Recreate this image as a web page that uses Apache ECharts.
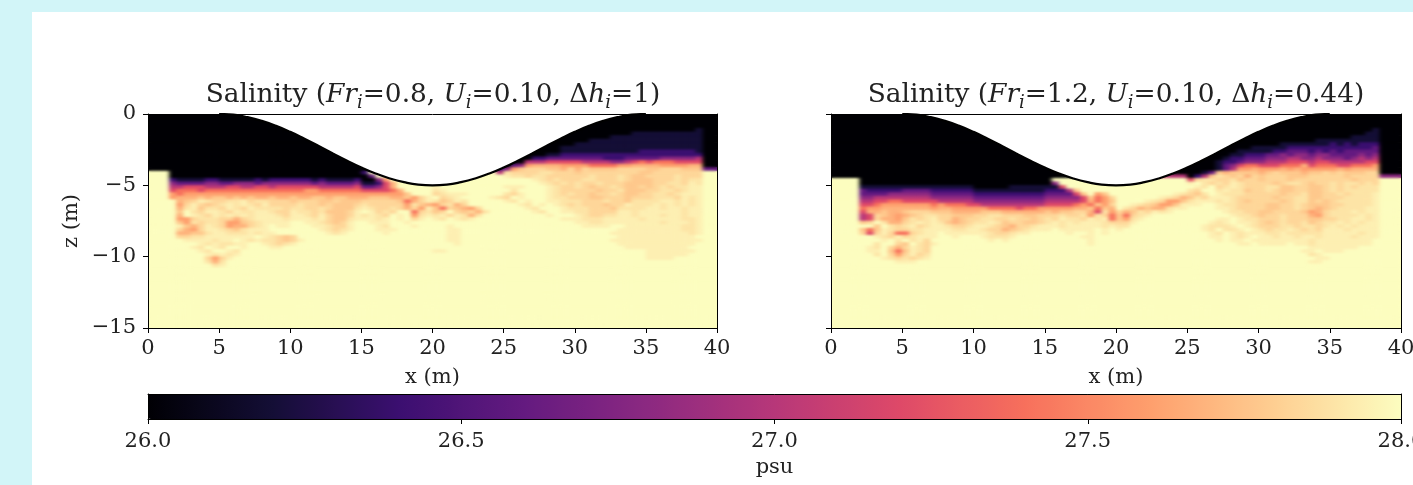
<!DOCTYPE html>
<html><head><meta charset="utf-8">
<style>
html,body{margin:0;padding:0;width:1413px;height:485px;overflow:hidden;background:#d2f5f8}
#paper{position:absolute;left:32px;top:12px;width:1381px;height:473px;background:#fff}
#chart{position:absolute;left:0;top:0;width:1413px;height:485px}
</style>
<script src="https://cdn.jsdelivr.net/npm/echarts@6/dist/echarts.min.js"></script>
</head><body>
<svg width="0" height="0" style="position:absolute"><filter id="soft" x="0" y="0" width="100%" height="100%" color-interpolation-filters="sRGB"><feGaussianBlur stdDeviation="2.2 1.1" result="b"/><feMerge><feMergeNode in="SourceGraphic"/><feMergeNode in="b"/></feMerge></filter></svg>
<div id="paper"></div><div id="chart"></div>
<script>
// Salinity level of each character used in the field rows below
const levelChars = ['0','1','2','3','4','5','6','7','8','9','a','b','c','d','.'];
const levelValues = [26.0,26.2,26.4,26.6,26.8,27.0,27.2,27.4,27.6,27.68,27.77,27.83,27.89,27.94,28.0];
const magmaStops = ['#000004','#140e36','#3b0f70','#641a80','#8c2981','#b73779','#de4968','#f7705c','#fe9f6d','#fecf92','#fcfdbf'];
const titleA = ['0.8','0.10','1'];
const titleB = ['1.2','0.10','0.44'];
// upper boundary (hull)
const hullX = [5,6,7,8,9,10,11,12,13,14,15,16,17,18,19,20,21,22,23,24,25,26,27,28,29,30,31,32,33,34,35];
const hullZ = [0,-0.05,-0.22,-0.48,-0.83,-1.25,-1.73,-2.24,-2.76,-3.27,-3.75,-4.17,-4.52,-4.78,-4.95,-5,-4.95,-4.78,-4.52,-4.17,-3.75,-3.27,-2.76,-2.24,-1.73,-1.25,-0.83,-0.48,-0.22,-0.05,0];
// Cells are 0.5 m wide, 0.25 m tall. firstRow = rows above it are black; rows after the last are background.
const firstRow = 4;
const fieldRowsA = [
'0000000000 0000000000 0000000000 0000000000 0000000000 0000000000 0000000000 0000000100',
'0000000000 0000000000 0000000000 0000000000 0000000000 0000000000 0000000011 1111111100',
'0000000000 0000000000 0000000000 0000000000 0000000000 0000000000 0000011111 1111111100',
'0000000000 0000000000 0000000000 0000000000 0000000000 0000000000 0011111111 1111111100',
'0000000000 0000000000 0000000000 0000000000 0000000000 0000000000 1111111111 1111111100',
'0000000000 0000000000 0000000000 0000000000 0000000000 0000000011 1111111111 1111111100',
'0000000000 0000000000 0000000000 0000000000 0000000000 0000000011 1111111112 2222222100',
'0000000000 0000000000 0000000000 0000000000 0000000000 0000001122 2222222222 2222222200',
'0000000000 0000000000 0000000000 0000000000 0000000000 0000223333 3333222333 3344444500',
'0000000000 0000000000 0000000000 0000000000 0000000000 0005556666 6555544567 6777666600',
'0000000000 0000000000 0000000000 0000000000 0000000000 0348999988 8877778899 9988889900',
'0000000000 0000000000 0000000000 0000000000 0000000002 48abbbaa9b 9baaaabbbb aabbbaaa33',
'...0000000 0000000000 0000000000 2......... .........5 cbbbbccbbb abbbbbbbba abbbbbbb..',
'...0000000 0000000000 0000000000 03........ .......... dccbccbbbb bbcbbbcbaa bbbbcbbb..',
'...2111122 1111121222 2221211112 0048...... .......... ....dcbcbb bccbbbcbaa abbbcbcc..',
'...4333344 3344434444 4443433334 11269..... .......... .....dcbcb cbbcbbbaaa abbccbdc..',
'...5566655 5665566566 6666555556 33469..... d......... ddd...dcbb cbabbcbaab abcbccdd..',
'...6777677 7777777777 7788777777 666679.... cd........ .c....dcbb bbbabbcaaa bbccbcdd..',
'...8788888 8888888888 8888888888 888888a... bcddd..... cbd...dcbc bbabbcbaab bccbcddd..',
'...8999a9a a9a9a99a99 a99aa9aa99 9aaa99a8bd .bcd....dc b.d...dccb bbaabbbabb bcccbdcd..',
'....9abdcb bccdbccbbb abbbaabaaa bbbbba79bd cabdc..... dc.d..ddcc cbbbcbbacc ccddcdcd..',
'....8bdbab cdcdcbdbbb bcbbabaaab cbbbbb8ca9 8bc9b..... ..dc.d.dcb cbbbabbdcc cdcdcdcd..',
'....9cdacc bdcbdccccb ccbbcbaaac dcbbcb9b8d a7ba98b... ...dc...dc ccbbbacccc ddcddcdd..',
'....a.cbdd cbdccddcbb dccbcaaabd .dbcb..7bc ab.bab9c.. ....dc..dd ccbbbbddcd dddddcdd..',
'....9.dcbd cdcdcdddcb ddcbdbaabd cdcb.d.8cd cdbdc9c... ......d... dcbbccddcd ddcddcdd..',
'....88bccc bb9bcddddc dddcdbaacd ddcd.d.bd. dc.dcd.... ........dd dcccdddddc dddddccd..',
'....a8cbcc b88abcdddd ..ddcbabd. .ddd..d... .......... .......... ddccdddddd ddcdddcd..',
'....da9bdc b899bcd.dd ...ddcbbd. ..dc...d.. ..d....... .......... .dddd..ddd dddddccd..',
'....b98bdd cbacddd... ....dcbcd. ..ddd..... ..dd...... .......... ......dddd dddddccd..',
'....99aacd dcccdcdd.. .....dcd.. ...d...... ..dd...... .......... .....ddddd ddddddcd..',
'....bbccdd ddddd.dcba b......... .......... ..dd...... .......... ......dddd ddddddd...',
'.....ddddc dd.dcdccba bd........ .......... ..dd...... .......... .....ddddd dddddddd..',
'.......dcd ccdd..dcbc d......... .......... ...d...... .......... ......dddd ddddddd...',
'......dc.d c..d...dd. .......... .......... .......... .......... .......ddd dddddd....',
'.......dc. .dc....... .......... .......... dd........ .......... .......... ddddddd...',
'........dc dcd....... .......... .......... .......... .......... .......... dddddd....',
'........b8 bd........ .......... .......... .......... .......... .......... dddd......',
'........c9 c......... .......... .......... .......... .......... .......... ..........',
'.........c d......... .......... .......... .......... .......... .......... ..........'
];
const fieldRowsB = [
'0000000000 0000000000 0000000000 0000000000 0000000000 0000000000 0000000000 0000001000',
'0000000000 0000000000 0000000000 0000000000 0000000000 0000000000 0000000000 0000011000',
'0000000000 0000000000 0000000000 0000000000 0000000000 0000000000 0000000000 0001111000',
'0000000000 0000000000 0000000000 0000000000 0000000000 0000000000 0000000011 1111111000',
'0000000000 0000000000 0000000000 0000000000 0000000000 0000000000 0001111111 2121222000',
'0000000000 0000000000 0000000000 0000000000 0000000000 0000000001 1111222222 2222223000',
'0000000000 0000000000 0000000000 0000000000 0000000000 0000000111 1122333232 3233333000',
'0000000000 0000000000 0000000000 0000000000 0000000000 0000001122 2334344344 3333434000',
'0000000000 0000000000 0000000000 0000000000 0000000000 0000012233 3444554454 4434545000',
'0000000000 0000000000 0000000000 0000000000 0000000000 0000122344 4555666566 5555566000',
'0000000000 0000000000 0000000000 0000000000 0000000000 0000134677 6667779677 7667778000',
'0000000000 0000000000 0000000000 0000000000 0000000000 0000135889 8889898888 8989999000',
'0000000000 0000000000 0000000000 0000000000 0000000000 0013a9aaaa 9abaaa9aab abaaabb000',
'0000000000 0000000000 0000000000 0000000000 ......5555 025acbab9b abbbaaabbb bbabbbb444',
'....000000 0000000000 0000000000 0......... .......... 6bccbbcabb abbbabbbbb bbbabbb...',
'....000000 0000000000 0000000000 04........ .......... d.cbcbdcbb bbabccbabb cbccbcb...',
'....111111 1111111111 0000011111 116....... .......... .dc.bcdcbb bccaabbaab cbcbccc...',
'....322222 3333222222 1111111111 2225a..... .......... cb..cdccab bcbaabbaab cbccccc...',
'....333344 4444333333 2222222222 33336a.8a. ........dc bac.dcccbb bbbabbcaab bcbcccd...',
'....445555 5555444444 3333333333 444446a78b ......dcb9 acbdddcbbb bbabbccaab bbccccd...',
'....556677 6666655555 4444444444 555556978a ....dcb88a cdddcdcbab bbbabccaba bcccccd...',
'....667888 8888787776 6555555555 6666787a8b ..dcba88ad dd..dccbbb baabbcbaaa bbccccd...',
'....788999 9999899888 8877776778 888899a7a9 .cb9a99cdd ....ddcbbb baabbcba9a bccccdd...',
'....699a99 abbbaaa999 9aaa999999 a9aabb96c8 b9acbdcd.. .....dccbb aabbbba89b cccdcdd...',
'....56ba98 9abccbbaaa bbccbbbaab bbcbbc8cb7 a7bcd..... ......dccb abbcbbb98b ccccdcd...',
'....56b998 acbcdbb9ab bccbbcbbab cbdccbdcd7 a8cd...... ....dd.dcc bbbcbbbaab bccddcd...',
'....ab.c99 bcdcdca9ab ccdcabbaab cdcdcdddcb bbd....... ...dcd.ddc babcbbcabc cdcdcdd...',
'......a.cb cdbcddcbbc ddcba9bbcd ddcdddddcd cc........ ..dcccd.dc bbbccbccbc dcdcddd...',
'....a7adcb bccddddccd dcbb9abcdd d.ddddd.d. d......... ..dc.ccd.d cbccdcbcbd ddcdddd...',
'....b6bdb7 7bcdd.dddd ddcbbcdd.. ...d..d.d. .......... ...dc.dcdd dccdcccccd ddddcdd...',
'......dcbd bcddd..d.. .dcccd.... .....dd... .......... ...dd.dcd. ddcddcddcd dddcddd...',
'.......d.c .cdb...... ..d.d..... ......d... .......... ....d.dd.d dddddddcdd dddddd....',
'......c..b a.cbd..... .......... ......d... .......... .......dd. dddd.ddcdd dddddd....',
'.....dc.b9 bdcb...... .......... .......... .......... .......... .......ddd dddd......',
'.....dd.a7 adcb...... .......... .......... .......... .......... ......dd.d dd........',
'......c.b8 bdbc...... .......... .......... .......... .......... .......cd. ..........',
'.......dcb cbcd...... .......... .......... .......... .......... ........dd ..........',
'.........d dd........ .......... .......... .......... .......... .......dd. ..........'
];

const cols = 80, rows = 60;
const xCats = Array.from({length:cols},(_,i)=>i*0.5);
const zCats = Array.from({length:rows},(_,i)=>-i*0.25);
function cellsFrom(fieldRows){
  const out=[];
  for(let r=0;r<rows;r++){
    const s = r<firstRow ? null : (fieldRows[r-firstRow]||'').replace(/ /g,'');
    for(let c=0;c<cols;c++){
      let ch = r<firstRow ? '0' : (s[c]||'.');
      out.push([c,r,levelValues[levelChars.indexOf(ch)]]);
    }
  }
  return out;
}
const hull = hullX.map((x,i)=>[x,hullZ[i]]);
const FONT = '"DejaVu Serif"', INK='#222';
const fmtMinus = v => (v<0?'\u2212'+(-v):''+v);
const TOP = 1; // everything except the field cells is drawn on the upper layer

const grids = [
  {left:148,top:114,width:569,height:214,outerBoundsMode:'none'},
  {left:831,top:114,width:570,height:214,outerBoundsMode:'none'},
  {left:148,top:394,width:1253,height:25,outerBoundsMode:'none'}
];
const lineS = {lineStyle:{color:'#000',width:1}};
function panelAxes(g,showY){
  const xs=[
    {type:'category',gridIndex:g,show:false,data:xCats},
    {type:'value',gridIndex:g,min:0,max:40,interval:5,position:'bottom',zlevel:TOP,z:10,splitLine:{show:false},
      axisLine:{onZero:false,...lineS},axisTick:{show:true,length:5,...lineS},
      axisLabel:{fontFamily:FONT,fontSize:21,color:INK,margin:10},
      name:'x (m)',nameLocation:'middle',nameGap:39,nameTextStyle:{fontFamily:FONT,fontSize:21,color:INK}},
    {type:'value',gridIndex:g,min:0,max:40,position:'top',zlevel:TOP,z:10,splitLine:{show:false},
      axisLine:{onZero:false,...lineS},axisTick:{show:false},axisLabel:{show:false}}
  ];
  const ys=[
    {type:'category',gridIndex:g,show:false,inverse:true,data:zCats},
    {type:'value',gridIndex:g,min:-15,max:0,interval:5,position:'left',zlevel:TOP,z:10,splitLine:{show:false},
      axisLine:{onZero:false,...lineS},axisTick:{show:true,length:5,...lineS},
      axisLabel:{show:showY,fontFamily:FONT,fontSize:21,color:INK,margin:12,formatter:fmtMinus},
      name:showY?'z (m)':'',nameLocation:'middle',nameGap:66,nameRotate:90,nameTextStyle:{fontFamily:FONT,fontSize:21,color:INK}},
    {type:'value',gridIndex:g,min:-15,max:0,position:'right',zlevel:TOP,z:10,splitLine:{show:false},
      axisLine:{onZero:false,...lineS},axisTick:{show:false},axisLabel:{show:false}}
  ];
  return {xs,ys};
}
const pa=panelAxes(0,true), pb=panelAxes(1,false);
const cbX=[
  {type:'value',gridIndex:2,min:26,max:28,interval:0.5,position:'bottom',zlevel:TOP,z:10,splitLine:{show:false},
   axisLine:{onZero:false,...lineS},axisTick:{show:true,length:5,...lineS},
   axisLabel:{fontFamily:FONT,fontSize:21,color:INK,margin:12,formatter:v=>v.toFixed(1),hideOverlap:false,showMaxLabel:true},
   name:'psu',nameLocation:'middle',nameGap:38,nameTextStyle:{fontFamily:FONT,fontSize:21,color:INK}},
  {type:'value',gridIndex:2,min:26,max:28,position:'top',zlevel:TOP,z:10,splitLine:{show:false},
   axisLine:{onZero:false,...lineS},axisTick:{show:false},axisLabel:{show:false}}
];
const cbY=[
  {type:'value',gridIndex:2,min:0,max:1,position:'left',zlevel:TOP,z:10,splitLine:{show:false},
   axisLine:{show:true,onZero:false,...lineS},axisTick:{show:false},axisLabel:{show:false}},
  {type:'value',gridIndex:2,min:0,max:1,position:'right',zlevel:TOP,z:10,splitLine:{show:false},
   axisLine:{show:true,onZero:false,...lineS},axisTick:{show:false},axisLabel:{show:false}}
];
function titleText(v){
  return `{r|Salinity (}{it|Fr}{sub|i}{r|=${v[0]}, }{it|U}{sub|i}{r|=${v[1]}, \u0394}{it|h}{sub|i}{r|=${v[2]})}`;
}
const rich={
  r:{fontFamily:FONT,fontSize:26.4,fontWeight:'normal',color:INK,lineHeight:34},
  it:{fontFamily:FONT,fontSize:26.4,fontWeight:'normal',fontStyle:'italic',color:INK,lineHeight:34},
  sub:{fontFamily:FONT,fontSize:18,fontWeight:'normal',fontStyle:'italic',color:INK,lineHeight:18,verticalAlign:'bottom'}
};
const chart=echarts.init(document.getElementById('chart'),null,{renderer:'canvas',width:1413,height:485});
function heat(name,data,xi,yi){
  return {type:'heatmap',name,xAxisIndex:xi,yAxisIndex:yi,data,zlevel:0,z:2,progressive:0,animation:false,
    itemStyle:{borderWidth:0},emphasis:{disabled:true},silent:true};
}
function hullLine(xi,yi){
  return {type:'line',xAxisIndex:xi,yAxisIndex:yi,data:hull,smooth:true,symbol:'none',zlevel:TOP,z:3,silent:true,animation:false,
    lineStyle:{color:'#000',width:2.2},areaStyle:{color:'#fff',opacity:1,origin:'end'}};
}
chart.setOption({
  backgroundColor:'transparent',animation:false,
  title:[
    {text:titleText(titleA),left:428,top:73,textAlign:'center',zlevel:TOP,textStyle:{fontWeight:'normal',rich}},
    {text:titleText(titleB),left:1111,top:73,textAlign:'center',zlevel:TOP,textStyle:{fontWeight:'normal',rich}}
  ],
  grid:grids,
  xAxis:[...pa.xs,...pb.xs,...cbX],
  yAxis:[...pa.ys,...pb.ys,...cbY],
  visualMap:{type:'continuous',min:26,max:28,seriesIndex:[0,2],orient:'horizontal',left:148,top:394,itemWidth:25,itemHeight:1253,
    padding:0,text:null,showLabel:false,calculable:false,realtime:false,zlevel:TOP,inRange:{color:magmaStops}},
  series:[
    heat('Fr 0.8',cellsFrom(fieldRowsA),0,0),
    hullLine(1,1),
    heat('Fr 1.2',cellsFrom(fieldRowsB),3,3),
    hullLine(4,4)
  ]
});
// The reference field is a smoothly shaded image: soften only the layer holding the cells, clipped to the panels.
const fieldLayer = chart.getDom().querySelectorAll('canvas')[0];
fieldLayer.style.filter='url(#soft)';
fieldLayer.style.clipPath="path('M148 114H717V328H148Z M831 114H1401V328H831Z')";
</script></body></html>
